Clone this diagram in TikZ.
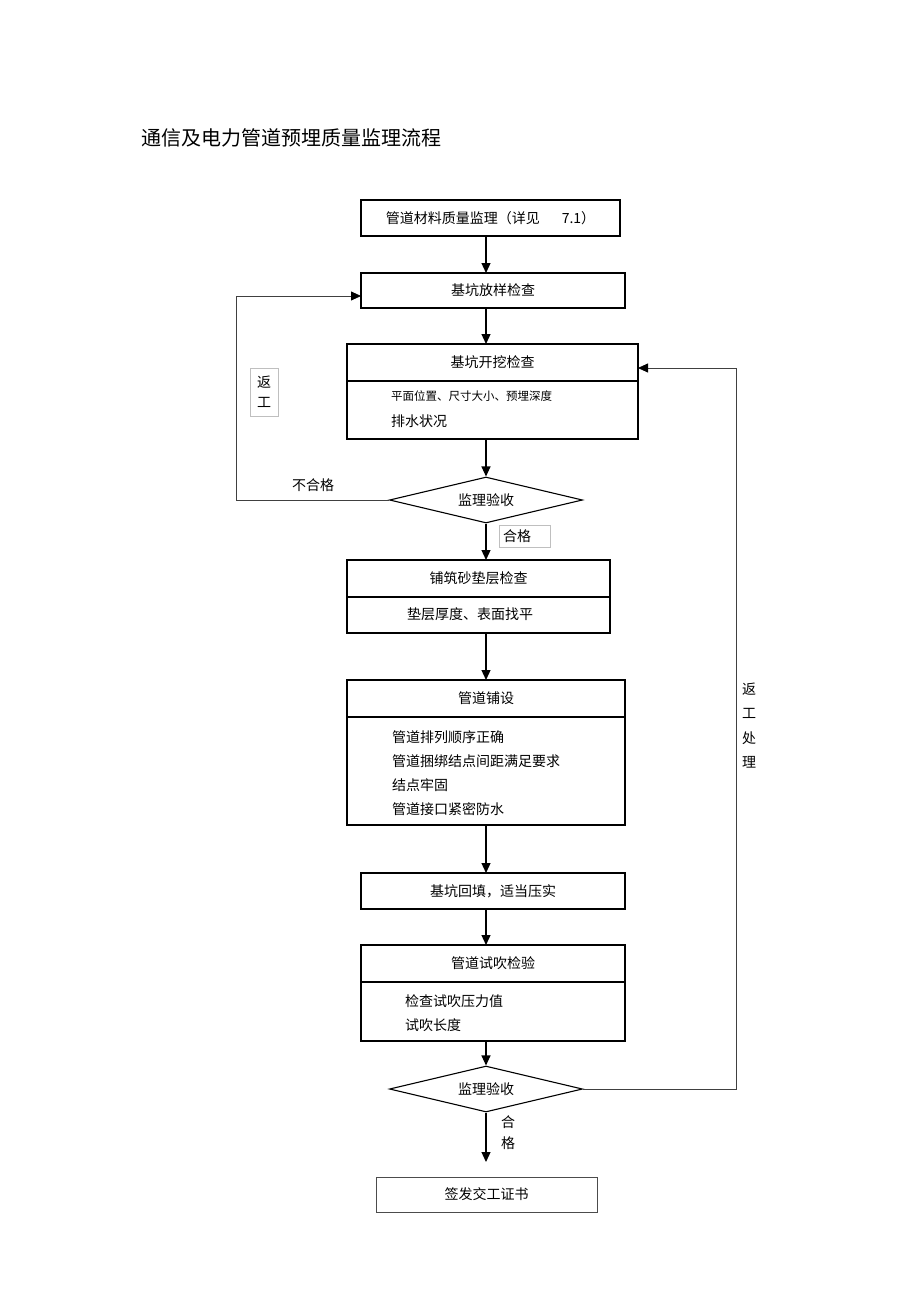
\documentclass[tikz,border=0pt]{standalone}
\usepackage{fontspec}
\setmainfont{Noto Sans CJK SC}
\usetikzlibrary{arrows.meta,
                positioning,
                shapes.geometric}

\begin{document}
\begin{tikzpicture}[x=1pt, y=-1pt,
  box/.style = {draw, line width=1.4pt, inner sep=0pt, outer sep=0pt,
      minimum height=36pt, font=\fontsize{14}{16}\selectfont},
  check/.style = {diamond, aspect=4.2, draw, line width=1.1pt, inner sep=0pt,
      minimum width=193pt, minimum height=46pt, font=\fontsize{14}{16}\selectfont},
  txt/.style = {anchor=west, inner sep=0pt, font=\fontsize{14}{16}\selectfont},
  note/.style = {draw=black!25, line width=0.4pt, align=center,
      font=\fontsize{14}{20}\selectfont},
  flow/.style = {draw, line width=1.2pt, -{Triangle[length=10pt,width=9pt,color=black]}},
  back/.style = {draw=black!75, line width=0.8pt}
  ]
  \useasboundingbox[fill=white] (0,0) rectangle (920,1303);
  \node[anchor=west, font=\fontsize{20}{23}\selectfont] (title) at (138,138)
    {通信及电力管道预埋质量监理流程};
  %
  \node[box, minimum width=259pt] (cl) at (490.5,218)
    {管道材料质量监理（详见\hspace{22pt}7.1）};
  \node[box, minimum width=264pt, minimum height=35pt] (fy) at (493,290.5) {基坑放样检查};
  \node[box, minimum width=291pt, minimum height=37pt] (kw) at (492.5,362.5) {基坑开挖检查};
  \node[box, minimum width=291pt, minimum height=58pt, below=0pt of kw] (kwb) {};
  \node[txt, font=\fontsize{11.5}{13}\selectfont] (kw1) at (391,396) {平面位置、尺寸大小、预埋深度};
  \node[txt] (kw2) at (391,421) {排水状况};
  \node[check] (ys1) at (486,500) {监理验收};
  %
  \node[box, minimum width=263pt, minimum height=37pt] (dc) at (478.5,578.5) {铺筑砂垫层检查};
  \node[box, minimum width=263pt, minimum height=36pt, below=0pt of dc] (dcb) {};
  \node[txt, anchor=center] (dc1) at (470,614) {垫层厚度、表面找平};
  %
  \node[box, minimum width=278pt, minimum height=37pt] (pg) at (486,698.5) {管道铺设};
  \node[box, minimum width=278pt, minimum height=108pt, below=0pt of pg] (pgb) {};
  \draw[line width=2.4pt] (pgb.north west) -- (pgb.north east);
  \node[txt] (pg1) at (392,737) {管道排列顺序正确};
  \node[txt] (pg2) at (392,761) {管道捆绑结点间距满足要求};
  \node[txt] (pg3) at (392,785) {结点牢固};
  \node[txt] (pg4) at (392,809) {管道接口紧密防水};
  %
  \node[box, minimum width=264pt] (ht) at (493,891) {基坑回填，适当压实};
  \node[box, minimum width=264pt, minimum height=37pt] (sc) at (493,963.5) {管道试吹检验};
  \node[box, minimum width=264pt, minimum height=59pt, below=0pt of sc] (scb) {};
  \node[txt] (sc1) at (405,1001) {检查试吹压力值};
  \node[txt] (sc2) at (405,1025) {试吹长度};
  \node[check] (ys2) at (486,1089) {监理验收};
  \node[box, draw=black!70, line width=0.9pt, minimum width=221pt, minimum height=35pt]
    (zs) at (486.5,1194.5) {签发交工证书};
  %
  \foreach \a/\b in {cl/fy, fy/kw, kwb/ys1, ys1/dc, dcb/pg, pgb/ht, ht/sc, scb/ys2}
    \draw[flow] (\a.south -| ys1) -- (\b.north -| ys1);
  \coordinate (end) at (486,1162);
  \draw[flow] (ys2.south) -- (end);
  %
  \coordinate (lf1) at (236,500);
  \coordinate (lf2) at (236,296);
  \draw[back] (ys1.west) -- (lf1) -- (lf2);
  \draw[flow, line width=0.8pt, draw=black!75] (lf2) -- (lf2 -| fy.west);
  \coordinate (rf1) at (736,1089);
  \coordinate (rf2) at (736,368);
  \draw[back] (ys2.east) -- (rf1) -- (rf2);
  \draw[flow, line width=0.8pt, draw=black!75] (rf2) -- (rf2 -| kw.east);
  %
  \node[font=\fontsize{14}{16}\selectfont] (bhg) at (313,485) {不合格};
  \node[note, minimum width=28pt, minimum height=48pt] (fg) at (264,392) {返\\工};
  \node[note, minimum width=50pt, minimum height=22pt, text width=44pt, align=left]
    (hg1) at (525,536) {合格};
  \node[note, draw=none, font=\fontsize{14}{24.5}\selectfont] (fgcl) at (749,725.5) {返\\工\\处\\理};
  \node[note, draw=none, font=\fontsize{14}{21}\selectfont] (hg2) at (508,1132.5) {合\\格};
\end{tikzpicture}
\end{document}
